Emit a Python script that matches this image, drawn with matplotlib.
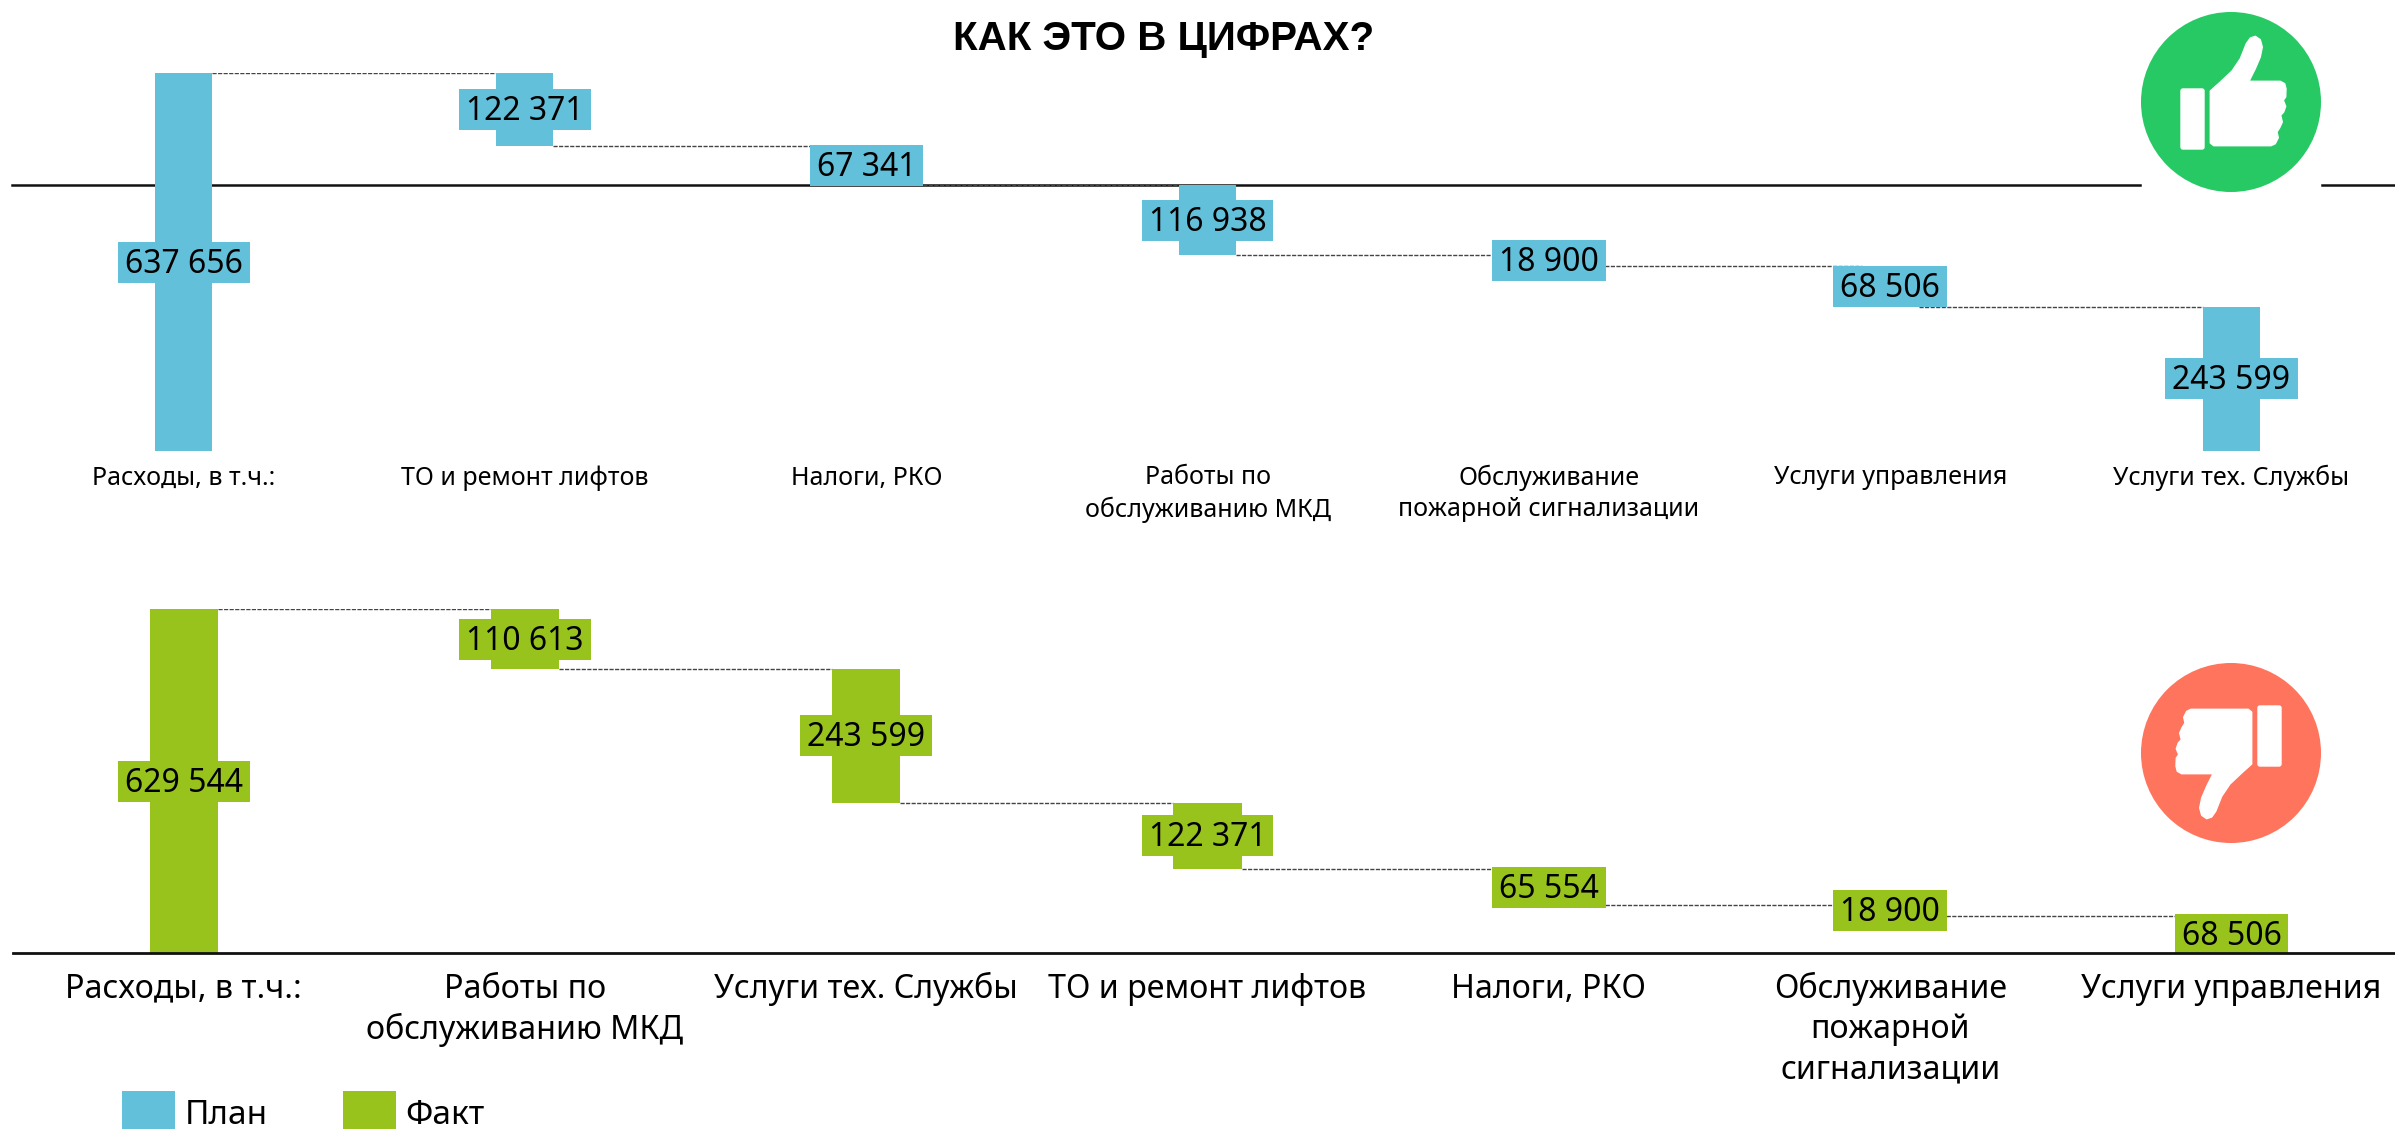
#!/usr/bin/env python3
"""
plot.py
-------
Two waterfall charts (plan vs fact) of house maintenance costs.
"""
import matplotlib
matplotlib.use("Agg")
import matplotlib.pyplot as plt
from matplotlib.patches import Rectangle, Circle, Polygon, FancyBboxPatch

W, H = 2395, 1129
plt.rcParams['font.family'] = ['Noto Sans', 'DejaVu Sans']

TITLE = "КАК ЭТО В ЦИФРАХ?"

plan_labels = ["Расходы, в т.ч.:", "ТО и ремонт лифтов", "Налоги, РКО",
               "Работы по\nобслуживанию МКД",
               "Обслуживание\nпожарной сигнализации",
               "Услуги управления", "Услуги тех. Службы"]
plan_values = [637656, 122371, 67341, 116938, 18900, 68506, 243599]

fact_labels = ["Расходы, в т.ч.:", "Работы по\nобслуживанию МКД",
               "Услуги тех. Службы", "ТО и ремонт лифтов", "Налоги, РКО",
               "Обслуживание\nпожарной\nсигнализации", "Услуги управления"]
fact_values = [629544, 110613, 243599, 122371, 65554, 18900, 68506]

BLUE = '#62C0DA'
GREEN = '#97C31C'
UP_GREEN = '#27C964'
DOWN_RED = '#FF745C'

# hand outline of the thumb icon, pixels relative to the circle centre
HAND = [(-20.7, -11), (-10.7, -20), (1, -31), (9.3, -43.3), (15.3, -58.3),
        (19.3, -64), (24.3, -65.7), (29.3, -62.3), (31.3, -55), (29.3, -45),
        (24.3, -33.3), (18, -20.7), (49.3, -20.7), (53.7, -18.3), (55, -13.3),
        (54.7, -5), (52.3, -1.7), (54.7, 4.3), (52.7, 10), (49.7, 13.3),
        (51.3, 20), (48.7, 25.7), (46, 30), (47.3, 35.7), (44.3, 41.7),
        (40, 43.7), (-17.3, 43.7), (-20.7, 41)]
CUFF = (-51, -14, 25, 62)


def px_rect(pos):
    """Axes position from left, top, right, bottom in pixels."""
    l, t, r, b = pos
    return [l / W, 1 - b / H, (r - l) / W, (b - t) / H]


def waterfall(fig, pos, xlim, labels, values, color, bar_width, label_pt,
              label_y, line_h):
    ax = fig.add_axes(px_rect(pos))
    ax.set_xlim(*xlim)
    ax.set_ylim(0, values[0])
    ax.axis('off')
    ax.patch.set_alpha(0)

    x_per_px = (xlim[1] - xlim[0]) / (pos[2] - pos[0])
    y_per_px = values[0] / (pos[3] - pos[1])

    # running levels, the first bar stands on zero
    tops = [values[0]]
    bottoms = [0]
    level = values[0]
    for v in values[1:]:
        tops.append(level)
        level -= v
        bottoms.append(level)

    ax.bar(range(len(values)), values, bottom=bottoms, width=bar_width,
           color=color, zorder=3)

    # dashed connectors between neighbouring bars
    for i in range(len(values) - 1):
        ax.plot([i + bar_width / 2, i + 1 - bar_width / 2], [tops[i + 1]] * 2,
                color='#444444', lw=1.0, ls=(0, (3, 1)), zorder=2)

    renderer = fig.canvas.get_renderer()
    for i, v in enumerate(values):
        mid = (tops[i] + bottoms[i]) / 2
        # digits sit a touch above the middle of their box
        txt = ax.text(i, mid + 2 * y_per_px, f"{v:,}".replace(",", " "), fontsize=23,
                      ha='center', va='center_baseline', color='black', zorder=5)
        tw = txt.get_window_extent(renderer).width
        bw = (tw + 14) * x_per_px
        bh = 41 * y_per_px
        ax.add_patch(Rectangle((i - bw / 2, mid - bh / 2), bw, bh,
                               facecolor=color, edgecolor='none', zorder=4))

    # category labels hang under the chart at fixed pixel rows
    for i, lab in enumerate(labels):
        x = (i - xlim[0]) / x_per_px + pos[0]
        for j, part in enumerate(lab.split("\n")):
            fig.text(x / W, 1 - (label_y + j * line_h) / H, part,
                     fontsize=label_pt, ha='center', va='center', color='black')
    return ax, bottoms


def thumb(overlay, cx, cy, color, flip):
    s = -1 if flip else 1
    overlay.add_patch(Circle((cx, cy), 90, facecolor=color, edgecolor='none', zorder=2))
    overlay.add_patch(Polygon([(cx + s * x, cy + s * y) for x, y in HAND], closed=True,
                              facecolor='white', edgecolor='white', lw=1,
                              joinstyle='round', zorder=3))
    l, t, w, h = CUFF
    x0 = cx + l if not flip else cx - l - w
    y0 = cy + t if not flip else cy - t - h
    overlay.add_patch(FancyBboxPatch((x0 + 1, y0 + 1), w - 2, h - 2,
                                     boxstyle="round,pad=0,rounding_size=2",
                                     facecolor='white', edgecolor='white', lw=1, zorder=3))


def main():
    fig = plt.figure(figsize=(W / 100, H / 100), dpi=100, facecolor='white')
    fig.canvas.draw()

    xlim = (-0.5, 6.479)
    ax_plan, plan_bottoms = waterfall(fig, (13, 73, W, 451), xlim, plan_labels,
                                      plan_values, BLUE, 0.167, 18, 478, 32)
    ax_fact, _ = waterfall(fig, (13, 609, W, 953), xlim, fact_labels,
                           fact_values, GREEN, 0.2, 23.2, 989, 40.5)

    # upper chart's black line sits where the third item ends, broken by the icon
    line_y = plan_bottoms[2]
    x_per_px = (xlim[1] - xlim[0]) / (W - 13)
    for a, b in [(12, 2140), (2322, W)]:
        ax_plan.plot([xlim[0] + (a - 13) * x_per_px, xlim[0] + (b - 13) * x_per_px],
                     [line_y, line_y], color='#111111', lw=1.8, zorder=1, clip_on=False)
    ax_fact.plot([xlim[0], xlim[1]], [0, 0], color='#111111', lw=2.0, zorder=6, clip_on=False)

    overlay = fig.add_axes([0, 0, 1, 1], zorder=10)
    overlay.set_xlim(0, W)
    overlay.set_ylim(H, 0)
    overlay.axis('off')
    overlay.patch.set_alpha(0)

    thumb(overlay, 2231, 102, UP_GREEN, False)
    thumb(overlay, 2231, 753, DOWN_RED, True)

    overlay.text(1164, 39, TITLE, fontsize=29, fontweight='bold',
                 family=['Liberation Sans', 'DejaVu Sans'],
                 ha='center', va='center', color='black')

    # legend squares run off the bottom edge of the picture
    for x, col, name, tx in [(122, BLUE, "План", 185), (343, GREEN, "Факт", 405)]:
        overlay.add_patch(Rectangle((x, 1091), 53, 40, facecolor=col, edgecolor='none'))
        overlay.text(tx, 1115, name, fontsize=24, ha='left', va='center', color='black')

    fig.savefig("out.png", dpi=100)
    plt.close(fig)


if __name__ == '__main__':
    main()
